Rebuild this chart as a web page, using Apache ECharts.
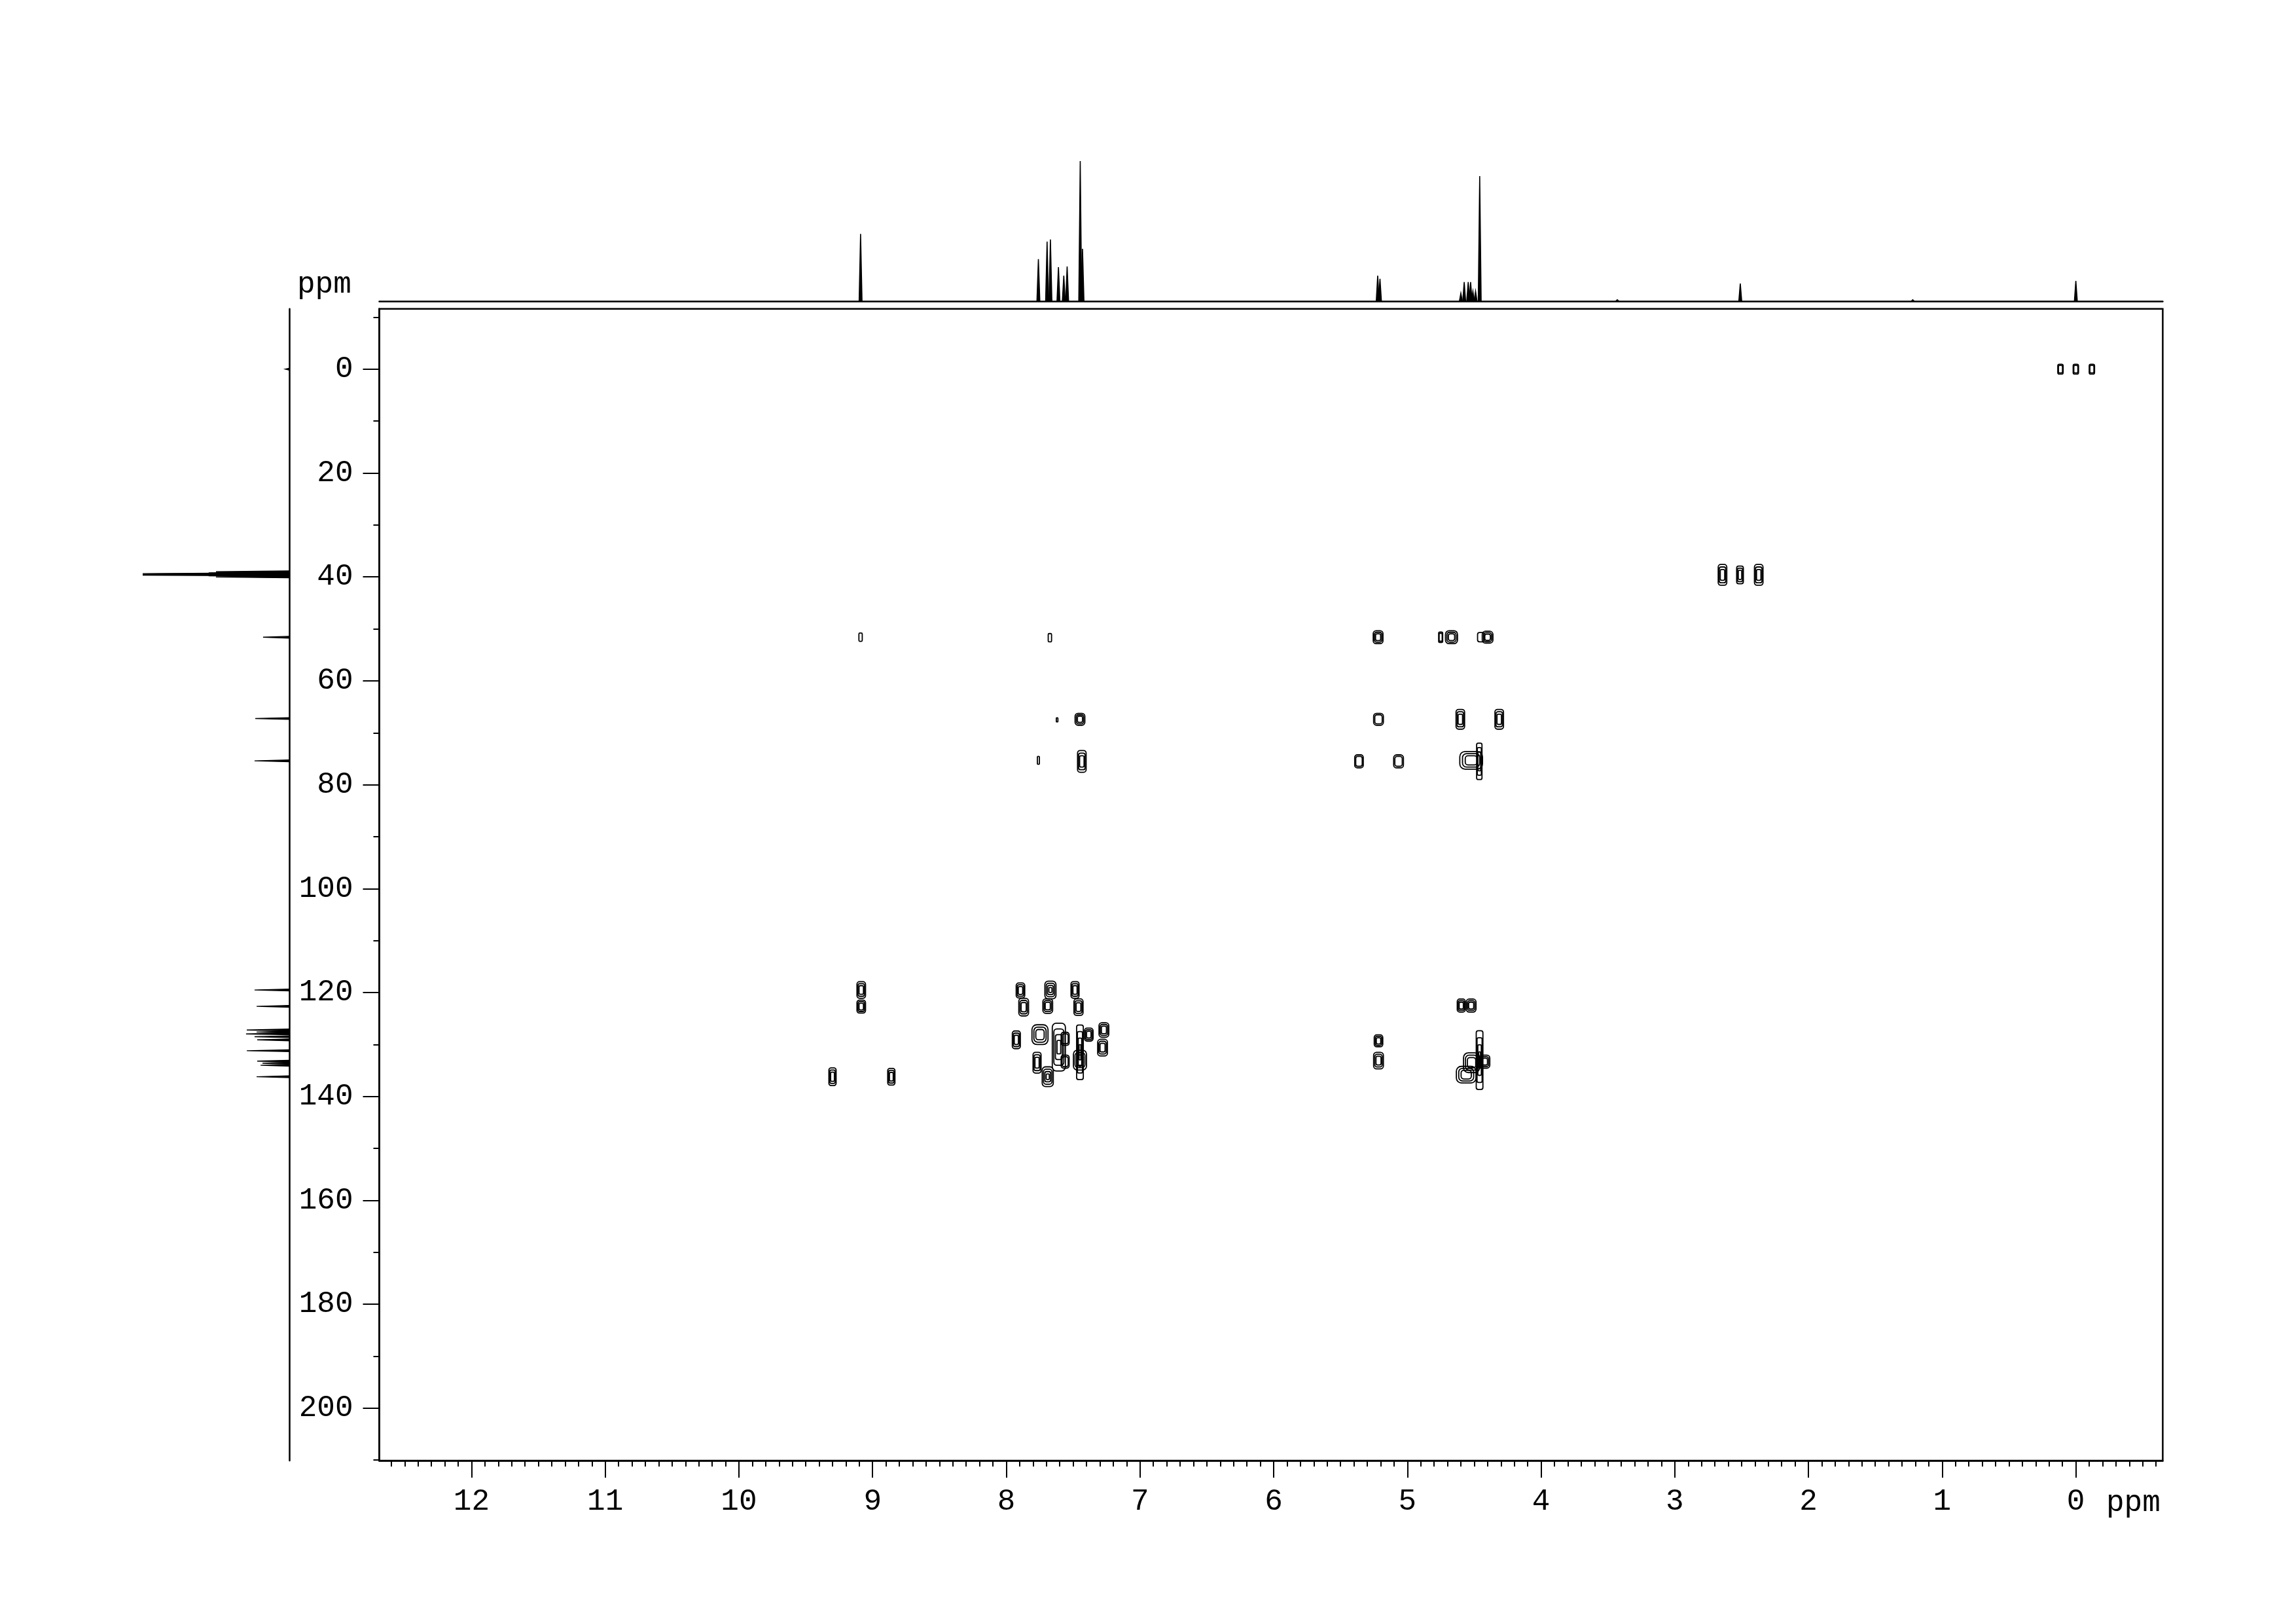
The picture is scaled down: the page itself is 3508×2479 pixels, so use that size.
<!DOCTYPE html>
<html>
<head>
<meta charset="utf-8">
<script src="https://cdn.jsdelivr.net/npm/echarts@6/dist/echarts.min.js"></script>
<style>
html,body{margin:0;padding:0;background:#fff;}
#chart{width:3508px;height:2479px;}
</style>
</head>
<body>
<div id="chart"></div>
<script>
// ---------- axis ranges / ticks ----------
const xRange = [-0.65, 12.69];          // 1H ppm (F2)
const yRange = [-11.6, 210.1];          // 13C ppm (F1)
const xMajorTicks = [0,1,2,3,4,5,6,7,8,9,10,11,12];
const yMajorTicks = [0,20,40,60,80,100,120,140,160,180,200];
const yMinorTicks = [-10,10,30,50,70,90,110,130,150,170,190,210];

// ---------- 1H projection (top) ----------
const hShift = [9.09, 7.76, 7.695, 7.67, 7.61, 7.57, 7.545, 7.447, 7.43, 5.222, 5.205,
                4.60, 4.575, 4.545, 4.527, 4.51, 4.49, 4.459, 3.43, 2.51, 1.22, 0.00];
const hInt   = [48, 30, 42.5, 44, 24.3, 18.2, 24.8, 100, 37.4, 18.2, 16,
                5.6, 13.6, 13.6, 13.6, 7, 7, 89.3, 1, 12.6, 1, 14.5];

// ---------- 13C projection (left) ----------
const cShift = [0.0, 39.0, 39.2, 39.35, 39.5, 39.65, 39.8, 40.0, 51.6, 67.25, 75.4,
                119.5, 122.65, 127.2, 127.6, 127.96, 128.5, 129.1, 131.2, 133.2, 133.6, 134.0, 136.2];
const cInt   = [2.7, 50, 55, 100, 100, 100, 55, 50, 17.9, 23.2, 23.7,
                23.7, 22.3, 29, 22.3, 29.5, 23.7, 21.9, 29, 21.9, 18.3, 19.6, 22.3];

// ---------- 2D cross peaks ----------
const crossH  = [0.115, 0.0, -0.12,
                 2.643, 2.512, 2.372,
                 9.09, 7.674, 5.219, 4.751, 4.67, 4.45, 4.40,
                 7.449, 7.62, 5.216, 4.604, 4.313,
                 7.76, 7.435, 5.362, 5.066, 4.523, 4.462,
                 9.085, 9.085, 9.30, 8.86,
                 7.894, 7.87, 7.67, 7.69, 7.486, 7.46, 7.925, 7.748, 7.607, 7.56, 7.56, 7.77, 7.69,
                 7.449, 7.383, 7.449, 7.27, 7.28,
                 5.216, 5.216, 4.597, 4.523, 4.46, 4.56, 4.52, 4.42];
const crossC  = [0, 0, 0,
                 39.6, 39.6, 39.6,
                 51.6, 51.7, 51.6, 51.6, 51.6, 51.6, 51.6,
                 67.4, 67.5, 67.4, 67.4, 67.4,
                 75.3, 75.5, 75.5, 75.5, 75.3, 75.5,
                 119.5, 122.7, 136.2, 136.2,
                 119.6, 122.8, 119.5, 122.6, 119.5, 122.8, 129.1, 128.1, 130.5, 128.9, 133.3, 133.5, 136.2,
                 131.5, 128.1, 133.0, 127.2, 130.6,
                 129.3, 133.1, 122.5, 122.5, 133.0, 135.8, 133.5, 133.3];
const crossWH = [0.04, 0.04, 0.04,
                 0.064, 0.05, 0.064,
                 0.025, 0.025, 0.073, 0.03, 0.09, 0.05, 0.08,
                 0.073, 0.012, 0.073, 0.064, 0.064,
                 0.015, 0.064, 0.064, 0.073, 0.17, 0.04,
                 0.064, 0.064, 0.054, 0.054,
                 0.064, 0.073, 0.083, 0.073, 0.06, 0.068, 0.06, 0.12, 0.098, 0.06, 0.06, 0.06, 0.083,
                 0.05, 0.064, 0.098, 0.073, 0.073,
                 0.064, 0.073, 0.06, 0.073, 0.05, 0.147, 0.12, 0.073];
const crossWC = [1.9, 1.9, 1.9,
                 4.0, 3.4, 4.0,
                 1.6, 1.6, 2.5, 2.0, 2.5, 1.8, 2.3,
                 2.3, 0.8, 2.3, 3.8, 3.8,
                 1.5, 4.2, 2.5, 2.5, 3.4, 7.0,
                 3.2, 2.5, 3.4, 3.2,
                 2.9, 3.4, 3.4, 2.8, 3.2, 3.2, 3.4, 3.8, 9.2, 2.5, 2.5, 4.0, 3.8,
                 10.5, 2.5, 3.8, 2.8, 3.2,
                 2.3, 3.2, 2.5, 2.5, 11.3, 3.2, 3.8, 2.5];
const crossLvl = [2, 2, 2,
                  3, 3, 3,
                  1, 1, 3, 2, 3, 1, 3,
                  3, 1, 2, 3, 3,
                  1, 3, 2, 2, 3, 3,
                  3, 3, 3, 3,
                  3, 3, 4, 3, 3, 3, 3, 3, 4, 2, 2, 3, 4,
                  4, 3, 3, 3, 3,
                  3, 3, 3, 3, 4, 3, 3, 3];

// ---------- derived ----------
const xMinorTicks = [];
for (let i = -6; i <= 126; i++) { if (i % 10 !== 0) xMinorTicks.push(i / 10); }
const crossData = crossH.map((h, i) => [h, crossC[i], crossWH[i], crossWC[i], crossLvl[i]]);
const hData = hShift.map((s, i) => [s, hInt[i]]);
const cData = cShift.map((s, i) => [cInt[i], s]);

const FONT = 'Liberation Mono';
const MAIN = {left: 579.5, top: 471.8, width: 2724.9, height: 1759.2};

const chart = echarts.init(document.getElementById('chart'), null, {renderer: 'canvas'});

function contourItem(params, api) {
  const c = api.coord([api.value(0), api.value(1)]);
  const s = api.size([api.value(2), api.value(3)]);
  const L = api.value(4);
  const children = [];
  for (let k = 0; k < L; k++) {
    const f = 1 - k * 0.24;
    const w = Math.max(s[0] * f, 2), h = Math.max(s[1] * f, 3);
    children.push({
      type: 'rect',
      shape: {x: c[0] - w / 2, y: c[1] - h / 2, width: w, height: h, r: Math.min(w, h) * 0.3},
      style: {fill: 'none', stroke: '#000', lineWidth: 1.8}
    });
  }
  return {type: 'group', children};
}

function hSpike(params, api) {
  const top = api.coord([api.value(0), api.value(1)]);
  const base = api.coord([api.value(0), 0]);
  const hw = 2.2;
  return {type: 'polygon',
    shape: {points: [[top[0] - hw, base[1]], [top[0], top[1]], [top[0] + hw, base[1]]]},
    style: {fill: '#000', stroke: '#000', lineWidth: 1.6}};
}
function cSpike(params, api) {
  const top = api.coord([api.value(0), api.value(1)]);
  const base = api.coord([0, api.value(1)]);
  const hw = 1.4;
  return {type: 'polygon',
    shape: {points: [[base[0], top[1] - hw], [top[0], top[1]], [base[0], top[1] + hw]]},
    style: {fill: '#000', stroke: '#000', lineWidth: 1.4}};
}

const axisLineStyle = {color: '#000', width: 2.5};

const option = {
  backgroundColor: '#fff',
  animation: false,
  grid: [
    Object.assign({show: true, borderColor: '#000', borderWidth: 2.5, containLabel: false}, MAIN),
    {left: MAIN.left, width: MAIN.width, top: 246, height: 214, show: false},
    {left: 218, width: 224, top: MAIN.top, height: MAIN.height, show: false}
  ],
  xAxis: [
    { // main, majors + labels
      gridIndex: 0, type: 'value', min: xRange[0], max: xRange[1], inverse: true, position: 'bottom',
      axisLine: {show: true, onZero: false, lineStyle: axisLineStyle},
      axisTick: {show: true, inside: false, length: 26, lineStyle: {color: '#000', width: 2}, customValues: xMajorTicks},
      axisLabel: {show: true, margin: 40, fontFamily: FONT, fontSize: 46, color: '#000', customValues: xMajorTicks},
      splitLine: {show: false}
    },
    { // main, minor ticks
      gridIndex: 0, type: 'value', min: xRange[0], max: xRange[1], inverse: true, position: 'bottom',
      axisLine: {show: false, onZero: false},
      axisTick: {show: true, inside: false, length: 9, lineStyle: {color: '#000', width: 2}, customValues: xMinorTicks},
      axisLabel: {show: false}, splitLine: {show: false}
    },
    { // 1H projection baseline
      gridIndex: 1, type: 'value', min: xRange[0], max: xRange[1], inverse: true, position: 'bottom',
      axisLine: {show: true, onZero: false, lineStyle: axisLineStyle},
      axisTick: {show: false}, axisLabel: {show: false}, splitLine: {show: false}
    },
    { // 13C projection intensity
      gridIndex: 2, type: 'value', min: 0, max: 100, inverse: true, show: false
    }
  ],
  yAxis: [
    { // main majors + labels
      gridIndex: 0, type: 'value', min: yRange[0], max: yRange[1], inverse: true, position: 'left',
      axisLine: {show: true, onZero: false, lineStyle: axisLineStyle},
      axisTick: {show: true, inside: false, length: 25, lineStyle: {color: '#000', width: 2}, customValues: yMajorTicks},
      axisLabel: {show: true, margin: 40, fontFamily: FONT, fontSize: 46, color: '#000', customValues: yMajorTicks},
      splitLine: {show: false}
    },
    { // main minor ticks
      gridIndex: 0, type: 'value', min: yRange[0], max: yRange[1], inverse: true, position: 'left',
      axisLine: {show: false, onZero: false},
      axisTick: {show: true, inside: false, length: 9, lineStyle: {color: '#000', width: 2}, customValues: yMinorTicks},
      axisLabel: {show: false}, splitLine: {show: false}
    },
    { // 1H projection intensity
      gridIndex: 1, type: 'value', min: 0, max: 100, show: false
    },
    { // 13C projection baseline
      gridIndex: 2, type: 'value', min: yRange[0], max: yRange[1], inverse: true, position: 'right',
      axisLine: {show: true, onZero: false, lineStyle: axisLineStyle},
      axisTick: {show: false}, axisLabel: {show: false}, splitLine: {show: false}
    }
  ],
  series: [
    {type: 'custom', name: 'HMBC', coordinateSystem: 'cartesian2d', xAxisIndex: 0, yAxisIndex: 0,
     renderItem: contourItem, data: crossData, encode: {x: 0, y: 1}, clip: true, silent: true},
    {type: 'custom', name: '1H', coordinateSystem: 'cartesian2d', xAxisIndex: 2, yAxisIndex: 2,
     renderItem: hSpike, data: hData, encode: {x: 0, y: 1}, silent: true},
    {type: 'custom', name: '13C', coordinateSystem: 'cartesian2d', xAxisIndex: 3, yAxisIndex: 3,
     renderItem: cSpike, data: cData, encode: {x: 0, y: 1}, silent: true}
  ],
  graphic: [
    {type: 'text', left: 454, top: 412, style: {text: 'ppm', font: '46px "' + FONT + '"', fill: '#000'}},
    {type: 'text', left: 3218, top: 2273, style: {text: 'ppm', font: '46px "' + FONT + '"', fill: '#000'}}
  ]
};
chart.setOption(option);
</script>
</body>
</html>
